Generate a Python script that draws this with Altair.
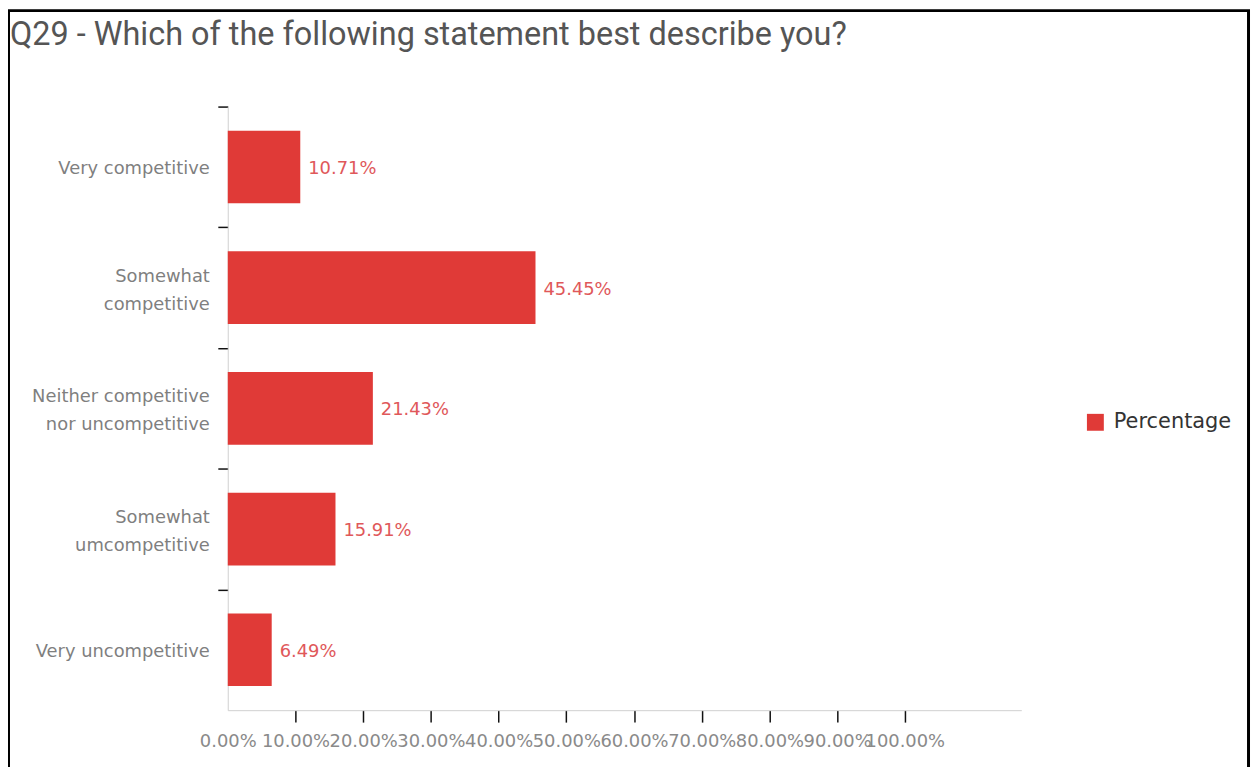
import altair as alt
import pandas as pd

title_text = "Q29 - Which of the following statement best describe you?"
categories = [
    "Very competitive",
    "Somewhat|competitive",
    "Neither competitive|nor uncompetitive",
    "Somewhat|umcompetitive",
    "Very uncompetitive",
]
values = [10.71, 45.45, 21.43, 15.91, 6.49]
series_name = ["Percentage"] * 5
x_ticks = [0, 10, 20, 30, 40, 50, 60, 70, 80, 90, 100]

df = pd.DataFrame({"category": categories, "value": values, "series": series_name})
df["label"] = df["value"].map(lambda v: f"{v:.2f}%")
df["lines"] = df["category"].map(lambda c: c.count("|") + 1)

BAR = "#e03a37"
FONT = "DejaVu Sans"

last_cat = categories[-1]

y_enc = alt.Y(
    "category:N",
    sort=categories,
    scale=alt.Scale(paddingInner=0, paddingOuter=0),
    axis=alt.Axis(
        title=None,
        labels=False,
        tickBand="extent",
        tickSize=10,
        tickColor="#111111",
        tickWidth=1.5,
        tickOpacity={
            "condition": {"test": f"datum.value === '{last_cat}' && !datum.extra", "value": 0},
            "value": 1,
        },
        domainColor="#d0d0d0",
    ),
)

x_enc = alt.X(
    "value:Q",
    scale=alt.Scale(domain=[0, 117.2], nice=False, zero=True),
    axis=alt.Axis(
        title=None,
        values=x_ticks,
        grid=False,
        tickSize=12,
        tickColor="#111111",
        tickWidth=1.5,
        tickOpacity={"condition": {"test": "datum.value === 0", "value": 0}, "value": 1},
        domainColor="#d0d0d0",
        labelPadding=11,
        labelFont=FONT,
        labelFontSize=18,
        labelColor="#8a8a8a",
        labelOverlap=False,
        labelBound=False,
        labelFlush=False,
        labelExpr="format(datum.value, '.2f') + '%'",
    ),
)

bars = alt.Chart(df).mark_bar(size=73).encode(
    x=x_enc,
    y=y_enc,
    color=alt.Color(
        "series:N",
        scale=alt.Scale(range=[BAR]),
        legend=alt.Legend(
            title=None,
            orient="none",
            legendX=862,
            legendY=307,
            padding=0,
            symbolType="square",
            symbolSize=289,
            symbolStrokeWidth=0,
            labelFont=FONT,
            labelFontSize=21,
            labelColor="#333333",
            labelOffset=8,
        ),
    ),
)

labels = alt.Chart(df).mark_text(
    align="left", baseline="middle", dx=8, dy=2, font=FONT, fontSize=18, color="#e0585a"
).encode(
    x=alt.X("value:Q"),
    y=alt.Y("category:N", sort=categories),
    text="label:N",
)

ylab_style = dict(align="right", baseline="middle", font=FONT, fontSize=18,
                  color="#7f7f7f", lineBreak="|", lineHeight=28)

ylab1 = alt.Chart(df).transform_filter("datum.lines == 1").mark_text(
    dy=2, **ylab_style
).encode(
    x=alt.value(-18),
    y=alt.Y("category:N", sort=categories),
    text="category:N",
)

ylab2 = alt.Chart(df).transform_filter("datum.lines == 2").mark_text(
    dy=-11, **ylab_style
).encode(
    x=alt.value(-18),
    y=alt.Y("category:N", sort=categories),
    text="category:N",
)

title = alt.Chart(alt.Data(values=[{"t": title_text}])).mark_text(
    align="left", baseline="alphabetic", font="Roboto", fontSize=32.6, color="#555555"
).encode(
    x=alt.value(-219),
    y=alt.value(-62),
    text="t:N",
)

frame = alt.Chart(alt.Data(values=[{"f": 1}])).mark_rect(
    filled=False, stroke="#000000", strokeWidth=3
).encode(
    x=alt.value(-220.5),
    x2=alt.value(1026.5),
    y=alt.value(-96.5),
    y2=alt.value(700),
)

chart = (
    alt.layer(bars, labels, ylab1, ylab2, title, frame)
    .properties(
        width=798,
        height=607,
        padding={"left": 221, "top": 97, "right": 231, "bottom": 55},
        autosize=alt.AutoSizeParams(type="none"),
        background="white",
    )
    .configure_view(stroke=None)
)

chart.save("out.html", embed_options={"renderer": "svg", "actions": False})
